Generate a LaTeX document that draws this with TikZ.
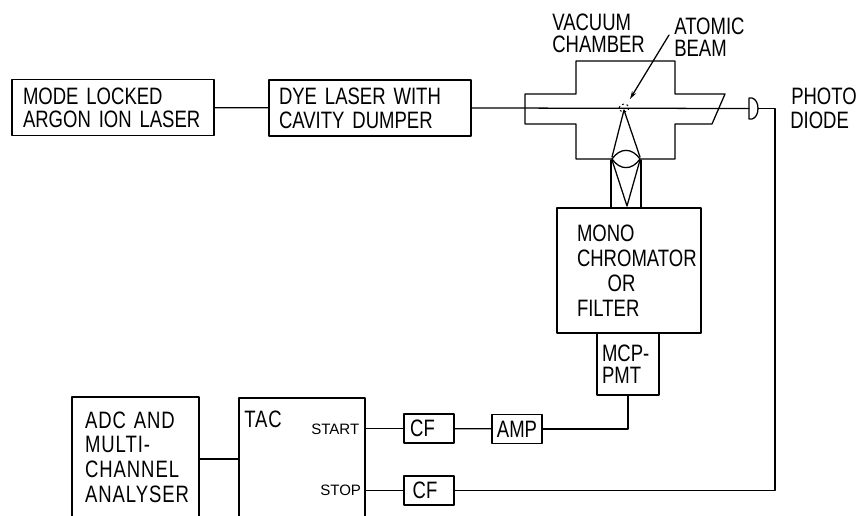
\documentclass[tikz,border=0pt]{standalone}
\usepackage{fontspec}
\setmainfont[FakeStretch=0.78]{Liberation Sans}
\newfontfamily\smallfont{Liberation Sans}
\newcommand\lbl[1]{\fontsize{17.8pt}{#1pt}\selectfont}
\usetikzlibrary{arrows.meta}
\tikzset{
  x=.75pt,y=-.75pt,
  wire/.style={line width=.95pt,line cap=round,line join=round},
  bx/.style n args={4}{wire,draw,rectangle,inner ysep=0pt,align=left,
    minimum width=#1*.75pt,minimum height=#2*.75pt,
    text width=(#1-2*#3)*.75pt,inner xsep=#3*.75pt,font=\lbl{#4}},
  sbx/.style={wire,draw,rectangle,minimum width=50*.75pt,minimum height=29*.75pt,inner sep=0pt,font=\lbl{18}},
  plain/.style={inner sep=0pt,anchor=base west,font=\lbl{18}},
  small/.style={inner sep=0pt,anchor=base west,font=\smallfont\fontsize{11.3pt}{12pt}\selectfont},
}
\begin{document}
\begin{tikzpicture}
\useasboundingbox (0,0) rectangle (860,516);
\clip (0,0) rectangle (860,516);
\fill[white] (0,0) rectangle (860,516);
% boxes
\node[bx={202}{56}{11}{17.25}] (mode) at (113,107.5) {MODE LOCKED\\ARGON ION LASER};
\node[bx={202}{56}{10}{18}] (dye) at (370,108) {DYE LASER WITH\\CAVITY DUMPER};
\node[bx={144}{125}{20}{18.75}] (mono) at (629,270.5) {MONO\\CHROMATOR\\\hspace*{23pt}OR\\FILTER};
\node[bx={62}{62}{5}{16.5}] (mcp) at (628,364) {MCP-\\PMT};
\node[bx={127}{120}{13}{18.5}] (adc) at (135.5,457) {\addfontfeature{LetterSpace=4}ADC AND\\MULTI-\\CHANNEL\\ANALYSER};
\node[wire,draw,rectangle,minimum width=126*.75pt,minimum height=122*.75pt] (tac) at (302,459) {};
\node[sbx] (cfa) at (429,428.5) {CF\hspace*{9.75pt}};
\node[sbx] (amp) at (517,429) {AMP};
\node[sbx] (cfb) at (429,490.5) {CF\hspace*{6pt}};
% free labels
\node[plain] (tactext) at (244,427) {\addfontfeature{LetterSpace=4}TAC};
\node[small] (start) at (311,434) {START};
\node[small] (stop) at (320,495) {STOP};
\node[plain] (vac1) at (552,31) {VACUUM};
\node[plain] (vac2) at (552,53) {CHAMBER};
\node[plain] (ato1) at (674,35) {ATOMIC};
\node[plain] (ato2) at (674,57) {BEAM};
\node[plain] (pho1) at (791,105) {PHOTO};
\node[plain] (pho2) at (790,129) {DIODE};
% coordinates
\coordinate (dfront) at (749,108.5);
\coordinate (dback) at (758,108.5);
\coordinate (dcorner) at (775,108.5);
\coordinate (arrowstart) at (669,35);
\coordinate (focus) at (624,108);
\coordinate (arrowend) at (630,99);
\coordinate (adcout) at (199,459);
% connectors
\draw[wire] (mode) -- (dye);
\draw[wire] (dye.east) -- (dfront);
\draw[wire] (adcout) -- (tac.west);
\draw[wire] (tac.east |- cfa) -- (cfa);
\draw[wire] (cfa) -- (amp);
\draw[wire] (amp.east) -| (mcp.south);
\draw[wire] (tac.east |- cfb) -- (cfb);
\draw[wire] (cfb.east) -| (dcorner) -- (dback);
\draw[wire,-{Stealth[length=6pt,width=3.5pt]}] (arrowstart) -- (arrowend);
% vacuum chamber
\draw[wire] (612,159) -- (576,159) -- (576,124) -- (525,124) -- (525,94) -- (576,94) -- (576,61)
  -- (675,61) -- (675,94) -- (725,94) -- (712,124) -- (675,124) -- (675,159) -- (640,159);
% lens
\draw[wire] (612,159) .. controls (620,147.5) and (632,147.5) .. (640,159)
  .. controls (632,170.5) and (620,170.5) .. (612,159);
% light cone
\draw[wire] (612,157) -- (624,110) -- (640,157);
\draw[wire] (612,160) -- (627,206) -- (640,160);
\draw[wire] (611,160) -- (611,208);
\draw[wire] (641,160) -- (641,208);
% atomic beam spot
\draw[line width=.7pt,dash pattern=on 1.5pt off 2pt] (focus) ellipse (5 and 4);
% photodiode
\draw[wire] (749,98) -- (749,119) -- (752,119) .. controls (760,117) and (760,100) .. (752,98) -- cycle;
\end{tikzpicture}
\end{document}
